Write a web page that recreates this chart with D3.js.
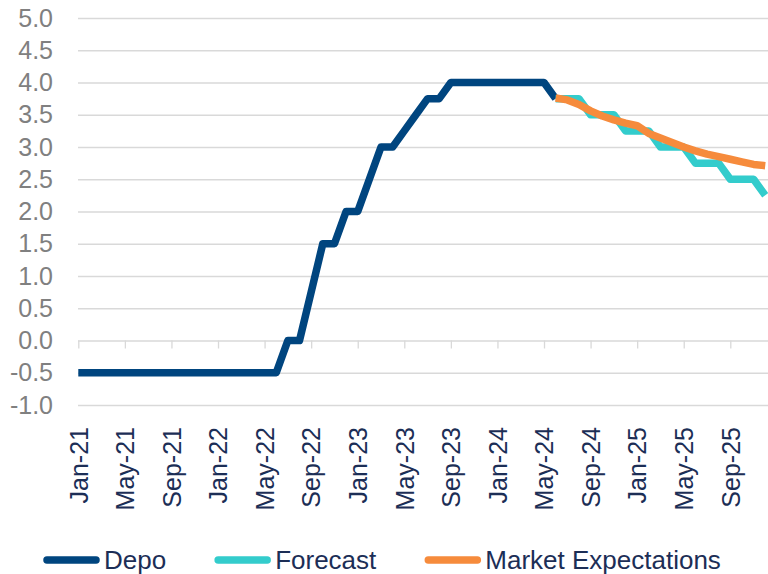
<!DOCTYPE html>
<html>
<head>
<meta charset="utf-8">
<script src="https://cdn.jsdelivr.net/npm/d3@7"></script>
<style>
body{margin:0;background:#fff;}
svg{display:block;}
text{font-family:"Liberation Sans",Arial,sans-serif;}
</style>
</head>
<body>
<svg id="chart"></svg>
<script>
//months are counted from Jan-21 (index 0)
var tickLabels = ["Jan-21","May-21","Sep-21","Jan-22","May-22","Sep-22","Jan-23",
                  "May-23","Sep-23","Jan-24","May-24","Sep-24","Jan-25","May-25","Sep-25"];

var yTicks = [5.0,4.5,4.0,3.5,3.0,2.5,2.0,1.5,1.0,0.5,0.0,-0.5,-1.0];

//Depo, Jan-21 .. Jun-24
var depoStart = 0;
var depo = [-0.5,-0.5,-0.5,-0.5,-0.5,-0.5,-0.5,-0.5,-0.5,-0.5,-0.5,-0.5,
            -0.5,-0.5,-0.5,-0.5,-0.5,-0.5,0.0,0.0,0.75,1.5,1.5,2.0,
            2.0,2.5,3.0,3.0,3.25,3.5,3.75,3.75,4.0,4.0,4.0,4.0,
            4.0,4.0,4.0,4.0,4.0,3.75];

//Forecast, Jun-24 .. Dec-25
var forecastStart = 41;
var forecast = [3.75,3.75,3.75,3.5,3.5,3.5,3.25,3.25,3.25,3.0,3.0,3.0,
                2.75,2.75,2.75,2.5,2.5,2.5,2.25];

//Market Expectations, Jun-24 .. Dec-25
var marketStart = 41;
var market = [3.76,3.73,3.66,3.56,3.48,3.42,3.37,3.33,3.21,3.14,3.07,3.00,
              2.94,2.89,2.85,2.81,2.77,2.73,2.71];

var seriesNames = ["Depo","Forecast","Market Expectations"];

var colors = {depo:"#00457f",forecast:"#33cccc",market:"#f68b3c"};

var screen = {width:768,height:574};

var svg = d3.select("#chart")
    .attr("width",screen.width)
    .attr("height",screen.height);

var xScale = d3.scaleLinear()
    .domain([0,56])
    .range([78.3,730.3]);

var yScale = d3.scaleLinear()
    .domain([-1,5])
    .range([405,18]);

var plotRight = screen.width;

//y axis with gridlines
var yAxis = d3.axisLeft(yScale)
    .tickValues(yTicks)
    .tickSize(-(plotRight-78))
    .tickPadding(25)
    .tickFormat(d3.format(".1f"));

var yG = svg.append("g")
    .attr("transform","translate(78,0)")
    .call(yAxis);
yG.select(".domain").remove();
yG.selectAll("line")
    .attr("stroke","#d9d9d9")
    .attr("stroke-width",1.3);
yG.selectAll("text")
    .attr("fill","#808080")
    .style("font-size","25px")
    .text(function(d){ return d3.format(".1f")(d).replace("−","-"); });

//tick marks along the zero line
var tickValues = tickLabels.map(function(d,i){ return i*4; });

var xTicks = svg.append("g")
    .attr("transform","translate(0,"+yScale(0)+")")
    .call(d3.axisBottom(xScale)
          .tickValues(tickValues)
          .tickSize(8)
          .tickFormat(""));
xTicks.select(".domain").remove();
xTicks.selectAll("line")
    .attr("stroke","#d9d9d9")
    .attr("stroke-width",1.3);

//labels below the plot
var xLabels = svg.append("g")
    .attr("transform","translate(0,"+yScale(-1)+")")
    .call(d3.axisBottom(xScale)
          .tickValues(tickValues)
          .tickSize(0)
          .tickFormat(function(d,i){ return tickLabels[i]; }));
xLabels.select(".domain").remove();
xLabels.selectAll("text")
    .attr("fill","#1c2e56")
    .style("font-size","25px")
    .style("text-anchor","end")
    .attr("transform","rotate(-90)")
    .attr("x",-22)
    .attr("y",0)
    .attr("dy","0.35em");

//lines
var drawSeries = function(values,start,color)
{
    var lineGenerator = d3.line()
        .x(function(d,i){ return xScale(start+i); })
        .y(function(d){ return yScale(d); });

    svg.append("path")
        .datum(values)
        .attr("d",lineGenerator)
        .attr("fill","none")
        .attr("stroke",color)
        .attr("stroke-width",7.5)
        .attr("stroke-linejoin","round");
}

drawSeries(depo,depoStart,colors.depo);
drawSeries(forecast,forecastStart,colors.forecast);
drawSeries(market,marketStart,colors.market);

//legend
var legendColors = [colors.depo,colors.forecast,colors.market];
var legend = svg.append("g").attr("transform","translate(0,560)");
var lx = 43;
seriesNames.forEach(function(name,i)
{
    legend.append("line")
        .attr("x1",lx+4).attr("x2",lx+53)
        .attr("y1",0).attr("y2",0)
        .attr("stroke",legendColors[i])
        .attr("stroke-width",7.5)
        .attr("stroke-linecap","round");
    var t = legend.append("text")
        .attr("x",lx+61)
        .attr("y",0)
        .attr("dy","0.35em")
        .attr("fill","#1c2e56")
        .style("font-size","26px")
        .text(name);
    lx = lx+61+t.node().getComputedTextLength()+48;
});
</script>
</body>
</html>
